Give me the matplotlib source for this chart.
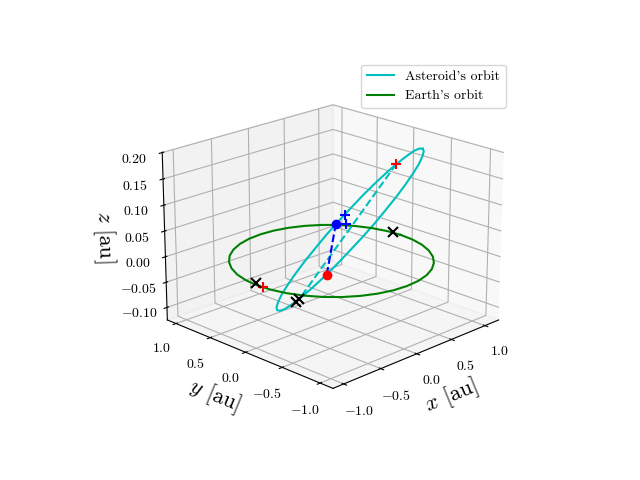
#!/usr/bin/env python3
# Asteroid and Earth orbits in 3D, with epochs marked on each orbit

import matplotlib
matplotlib.use('Agg')
import matplotlib.pyplot as plt

plt.rcParams['font.family'] = ['cmr10', 'DejaVu Serif']
plt.rcParams['mathtext.fontset'] = 'cm'
plt.rcParams['axes.formatter.use_mathtext'] = True

# Asteroid orbit
ast_x = [0.999, 0.968, 0.917, 0.847, 0.759, 0.658, 0.547, 0.426, 0.303, 0.178, 0.057, -0.056,
         -0.159, -0.248, -0.321, -0.375, -0.409, -0.420, -0.411, -0.380, -0.329, -0.259, -0.171, -0.070,
         0.041, 0.162, 0.285, 0.410, 0.531, 0.644, 0.747, 0.836, 0.909, 0.963, 0.997, 1.008, 0.999]
ast_y = [-0.313, -0.353, -0.383, -0.401, -0.406, -0.400, -0.381, -0.350, -0.309, -0.258, -0.199, -0.134,
         -0.065, 0.006, 0.076, 0.145, 0.209, 0.267, 0.317, 0.357, 0.387, 0.405, 0.410, 0.404,
         0.385, 0.354, 0.313, 0.262, 0.203, 0.138, 0.069, -0.002, -0.072, -0.141, -0.205, -0.263, -0.313]
ast_z = [0.180, 0.178, 0.172, 0.161, 0.147, 0.130, 0.110, 0.088, 0.064, 0.040, 0.016, -0.008,
         -0.030, -0.050, -0.067, -0.081, -0.092, -0.098, -0.100, -0.098, -0.092, -0.081, -0.067, -0.050,
         -0.030, -0.008, 0.016, 0.040, 0.064, 0.088, 0.110, 0.130, 0.147, 0.161, 0.172, 0.178, 0.180]

# Earth orbit
earth_x = [0.974, 0.959, 0.914, 0.840, 0.740, 0.617, 0.474, 0.316, 0.148, -0.026, -0.200, -0.368,
           -0.526, -0.669, -0.792, -0.892, -0.966, -1.011, -1.026, -1.011, -0.966, -0.892, -0.792, -0.669,
           -0.526, -0.368, -0.200, -0.026, 0.148, 0.316, 0.474, 0.617, 0.740, 0.840, 0.914, 0.959, 0.974]
earth_y = [-0.054, 0.120, 0.288, 0.446, 0.589, 0.712, 0.812, 0.886, 0.931, 0.946, 0.931, 0.886,
           0.812, 0.712, 0.589, 0.446, 0.288, 0.120, -0.054, -0.228, -0.396, -0.554, -0.697, -0.820,
           -0.920, -0.994, -1.039, -1.054, -1.039, -0.994, -0.920, -0.820, -0.697, -0.554, -0.396, -0.228, -0.054]
earth_z = [0.0] * 37

# Dashed chords
chord_x = [0.92, -0.328]
chord_y = [-0.034, 0.088]
chord_z = [0.142, -0.070]
transfer_x = [-0.129, 0.374]
transfer_y = [-0.093, 0.276]
transfer_z = [-0.023, 0.033]

# Marked positions
red_plus_x = [0.92, -1.009]
red_plus_y = [-0.034, -0.122]
red_plus_z = [0.142, 0.0]
blue_plus_x = [0.371, 0.385]
blue_plus_y = [0.149, 0.142]
blue_plus_z = [0.0584, 0.039]
black_x_x = [0.996, -0.998, -0.346, -0.328]
black_x_y = [0.064, -0.012, 0.111, 0.088]
black_x_z = [0.0, 0.0, -0.076, -0.070]
red_dot = [-0.129, -0.093, -0.023]
blue_dot = [0.374, 0.276, 0.033]

fig = plt.figure(figsize=(6.4, 4.8), dpi=100)
ax = fig.add_subplot(projection='3d')
ax.view_init(elev=20, azim=-135)

ax.plot(ast_x, ast_y, ast_z, color='c', label="Asteroid's orbit")
ax.plot(earth_x, earth_y, earth_z, color='g', label="Earth's orbit")
ax.plot(chord_x, chord_y, chord_z, color='c', linestyle='--')
ax.plot(transfer_x, transfer_y, transfer_z, color='b', linestyle='--')

ax.plot(red_plus_x, red_plus_y, red_plus_z, 'r+', ms=7, mew=1.5)
ax.plot(blue_plus_x, blue_plus_y, blue_plus_z, 'b+', ms=7, mew=1.5)
ax.plot(black_x_x, black_x_y, black_x_z, 'kx', ms=7, mew=1.5)
ax.plot([red_dot[0]], [red_dot[1]], [red_dot[2]], 'ro', ms=6)
ax.plot([blue_dot[0]], [blue_dot[1]], [blue_dot[2]], 'bo', ms=6)

ax.set_xlim(-1.14, 1.21)
ax.set_ylim(-1.165, 1.13)
ax.set_zlim(-0.125, 0.2005)
ax.set_xlabel('$x$ [au]', fontsize=16)
ax.set_ylabel('$y$ [au]', fontsize=16)
ax.set_zlabel('$z$ [au]', fontsize=16)
ax.legend()

plt.savefig('out.png', dpi=100)
